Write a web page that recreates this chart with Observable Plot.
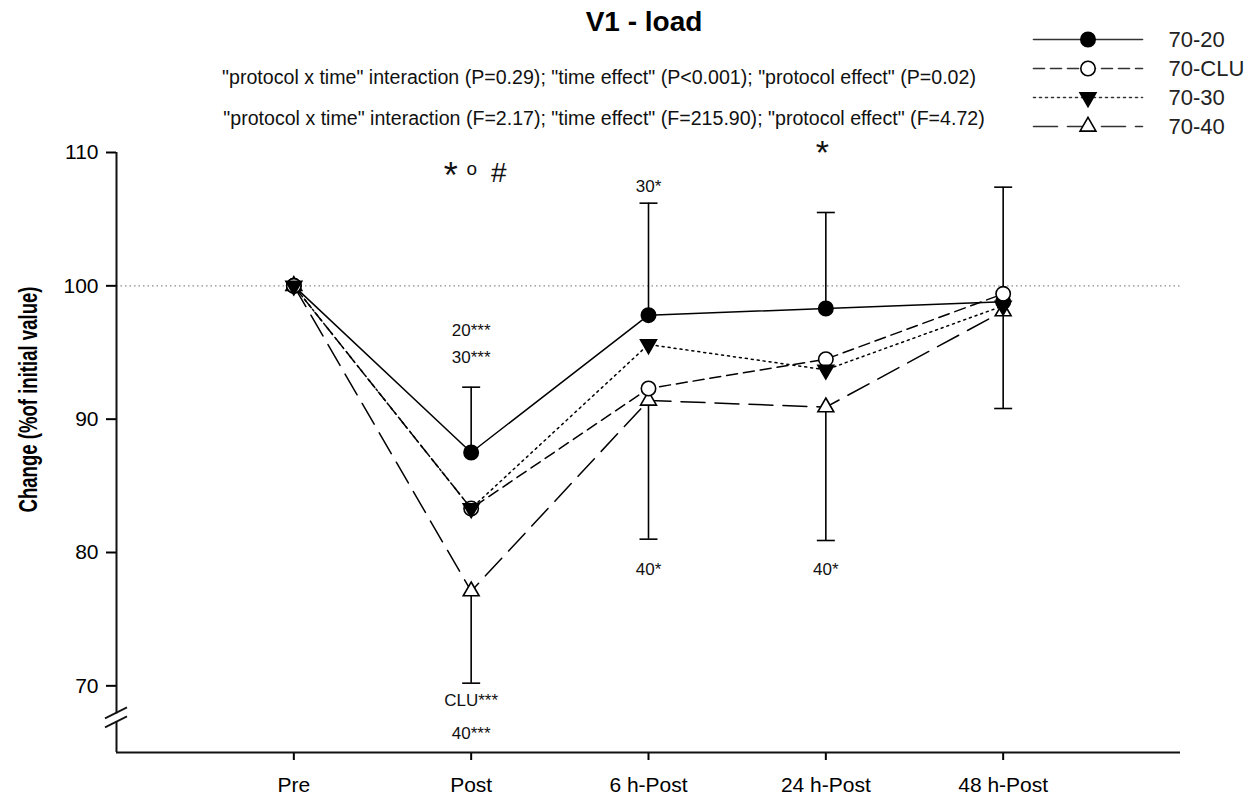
<!DOCTYPE html>
<html>
<head>
<meta charset="utf-8">
<script src="https://cdn.jsdelivr.net/npm/d3@7"></script>
<script src="https://cdn.jsdelivr.net/npm/@observablehq/plot@0.6"></script>
<style>
  body { margin: 0; background: #fff; }
  #wrap { position: relative; width: 1260px; height: 798px; overflow: hidden; font-family: "Liberation Sans", Arial, sans-serif; color: #000; }
  #chart { position: absolute; left: 0; top: 0; }
  #legend { position: absolute; left: 1020px; top: 20px; }
  .t { position: absolute; text-align: center; white-space: nowrap; }
  #title { left: 144px; width: 1000px; top: 6px; font-size: 28px; line-height: 32px; font-weight: bold; }
  .sub { font-size: 19.6px; line-height: 22px; color: #111; }
  #sub1 { left: 99px; width: 1000px; top: 66px; }
  #sub2 { left: 104px; width: 1000px; top: 107px; }
</style>
</head>
<body>
<div id="wrap">
  <div id="chart"></div>
  <div id="legend"></div>
  <div class="t" id="title">V1 - load</div>
  <div class="t sub" id="sub1">"protocol x time" interaction (P=0.29); "time effect" (P&lt;0.001); "protocol effect" (P=0.02)</div>
  <div class="t sub" id="sub2">"protocol x time" interaction (F=2.17); "time effect" (F=215.90); "protocol effect" (F=4.72)</div>
</div>
<script>
// ---------------- data ----------------
const timepoints = ["Pre", "Post", "6 h-Post", "24 h-Post", "48 h-Post"];
const protocols = ["70-20", "70-CLU", "70-30", "70-40"];

const values7020 = [100, 87.5, 97.8, 98.3, 98.8];
const values70CLU = [100, 83.3, 92.3, 94.5, 99.4];
const values7030 = [100, 83.3, 95.6, 93.7, 98.5];
const values7040 = [100, 77.1, 91.4, 90.9, 98.1];

// error bars: upward SD for 70-20, downward SD for 70-40
const sdUp7020 = [null, 4.9, 8.4, 7.2, 8.6];
const sdDown7040 = [null, 6.9, 10.4, 10.0, 7.3];

const yTicks = [70, 80, 90, 100, 110];
const yLabel = "Change (%of initial value)";
const referenceValue = 100;
const breakValue = 67.6;

// significance annotations
const annText = ["*", "o", "#", "*", "30*", "20***", "30***", "CLU***", "40***", "40*", "40*"];
const annTime = [0.885, 1.004, 1.156, 2.98, 2, 1, 1, 1, 1, 2, 3];
const annValue = [108.2, 108.75, 108.45, 109.95, 107.45, 96.65, 94.6, 68.9, 66.4, 78.7, 78.7];
const annSize = [36, 19, 28, 34, 17, 17, 17, 17, 17, 17, 17];

// ---------------- styles ----------------
const valuesByProtocol = {"70-20": values7020, "70-CLU": values70CLU, "70-30": values7030, "70-40": values7040};
const styleByProtocol = {
  "70-20": {dash: null, symbol: "circle", fill: "#000", rotate: 0, r: 7.2},
  "70-CLU": {dash: "11,6", symbol: "circle", fill: "#fff", rotate: 0, r: 7.2},
  "70-30": {dash: "2,4", symbol: "triangle", fill: "#000", rotate: 180, r: 5.9},
  "70-40": {dash: "24,10", symbol: "triangle", fill: "#fff", rotate: 0, r: 5.9}
};
const markerOrder = ["70-40", "70-20", "70-CLU", "70-30"];

const rows = protocols.flatMap(p => valuesByProtocol[p].map((v, i) => ({protocol: p, t: i, value: v})));
const errUp = sdUp7020.map((sd, i) => sd == null ? null : {t: i, y1: values7020[i], y2: values7020[i] + sd}).filter(d => d);
const errDown = sdDown7040.map((sd, i) => sd == null ? null : {t: i, y1: values7040[i] - sd, y2: values7040[i]}).filter(d => d);
const annotations = annText.map((s, i) => ({text: s, t: annTime[i], value: annValue[i], size: annSize[i]}));

const capSymbol = {draw(context) { context.moveTo(-9, 0); context.lineTo(9, 0); }};

const lineMarks = protocols.map(p => Plot.line(rows.filter(d => d.protocol === p), {
  x: "t", y: "value", stroke: "#000", strokeWidth: 1.5,
  strokeDasharray: styleByProtocol[p].dash || undefined
}));
const dotMarks = markerOrder.map(p => Plot.dot(rows.filter(d => d.protocol === p), {
  x: "t", y: "value", symbol: styleByProtocol[p].symbol, r: styleByProtocol[p].r,
  fill: styleByProtocol[p].fill, stroke: "#000", strokeWidth: 1.6, rotate: styleByProtocol[p].rotate
}));

const chart = Plot.plot({
  width: 1260,
  height: 798,
  marginLeft: 116,
  marginRight: 80,
  marginTop: 152,
  marginBottom: 46,
  style: {fontFamily: "'Liberation Sans', Arial, sans-serif", fontSize: "21px", color: "#000", background: "transparent"},
  x: {type: "linear", domain: [-1, 5]},
  y: {domain: [65, 110]},
  marks: [
    Plot.ruleY([referenceValue], {x1: -1, x2: 5, stroke: "#8a8a8a", strokeWidth: 1.2, strokeDasharray: "1.5,3"}),
    Plot.axisY({ticks: yTicks, tickSize: 10, tickPadding: 8, fontSize: 21, label: null, strokeWidth: 2}),
    Plot.axisX({ticks: [0, 1, 2, 3, 4], tickFormat: i => timepoints[i], tickSize: 8, tickPadding: 17, fontSize: 21, label: null, strokeWidth: 2}),
    Plot.ruleX([-1], {y1: 65, y2: 110, stroke: "#111", strokeWidth: 2}),
    Plot.ruleY([65], {x1: -1, x2: 5, stroke: "#111", strokeWidth: 2}),
    ...lineMarks,
    Plot.ruleX(errUp, {x: "t", y1: "y1", y2: "y2", stroke: "#000", strokeWidth: 1.6}),
    Plot.dot(errUp, {x: "t", y: "y2", symbol: capSymbol, stroke: "#000", strokeWidth: 1.6}),
    Plot.ruleX(errDown, {x: "t", y1: "y1", y2: "y2", stroke: "#000", strokeWidth: 1.6}),
    Plot.dot(errDown, {x: "t", y: "y1", symbol: capSymbol, stroke: "#000", strokeWidth: 1.6}),
    ...dotMarks,
    Plot.text(annotations, {x: "t", y: "value", text: "text", fontSize: d => d.size, fill: "#111"}),
    Plot.text([yLabel], {text: d => d, frameAnchor: "left", textAnchor: "middle", dx: -88, dy: -53, rotate: -90,
      fontWeight: "bold", fontSize: 26})
  ]
});
document.getElementById("chart").appendChild(chart);

// condense the y-axis title like the original's narrow face
d3.select(chart).selectAll("text").filter(function () { return this.textContent === yLabel; })
  .attr("textLength", 226).attr("lengthAdjust", "spacingAndGlyphs");

// axis break marks, placed through the plot's own scales
(function () {
  const yb = chart.scale("y").apply(breakValue);
  const x0 = chart.scale("x").apply(-1);
  const g = d3.select(chart).append("g");
  g.append("rect").attr("x", x0 - 3).attr("y", yb - 4).attr("width", 6).attr("height", 8).attr("fill", "#fff");
  [-4.5, 4.5].forEach(off => {
    g.append("line")
      .attr("x1", x0 - 11).attr("y1", yb + off + 5.5)
      .attr("x2", x0 + 11).attr("y2", yb + off - 5.5)
      .attr("stroke", "#111").attr("stroke-width", 1.8);
  });
})();

// ---------------- legend ----------------
const legendRows = protocols.flatMap(p => [0, 1].map(x => ({protocol: p, x})));
const legend = Plot.plot({
  width: 240,
  height: 130,
  marginLeft: 13,
  marginRight: 118,
  marginTop: 18,
  marginBottom: 24,
  style: {fontFamily: "'Liberation Sans', Arial, sans-serif", color: "#000", background: "transparent"},
  x: {domain: [0, 1], axis: null},
  y: {type: "point", domain: protocols, padding: 0, axis: null},
  marks: [
    ...protocols.map(p => Plot.line(legendRows.filter(d => d.protocol === p), {
      x: "x", y: "protocol", stroke: "#333", strokeWidth: 1.6, strokeDasharray: styleByProtocol[p].dash || undefined
    })),
    ...protocols.map(p => Plot.dot([p], {
      x: () => 0.5, y: d => d, symbol: styleByProtocol[p].symbol, r: styleByProtocol[p].r,
      fill: styleByProtocol[p].fill, stroke: "#000", strokeWidth: 1.6, rotate: styleByProtocol[p].rotate
    })),
    Plot.text(protocols, {x: () => 1, y: d => d, text: d => d, dx: 26, textAnchor: "start", fontSize: 22, fill: "#222"})
  ]
});
document.getElementById("legend").appendChild(legend);
</script>
</body>
</html>
